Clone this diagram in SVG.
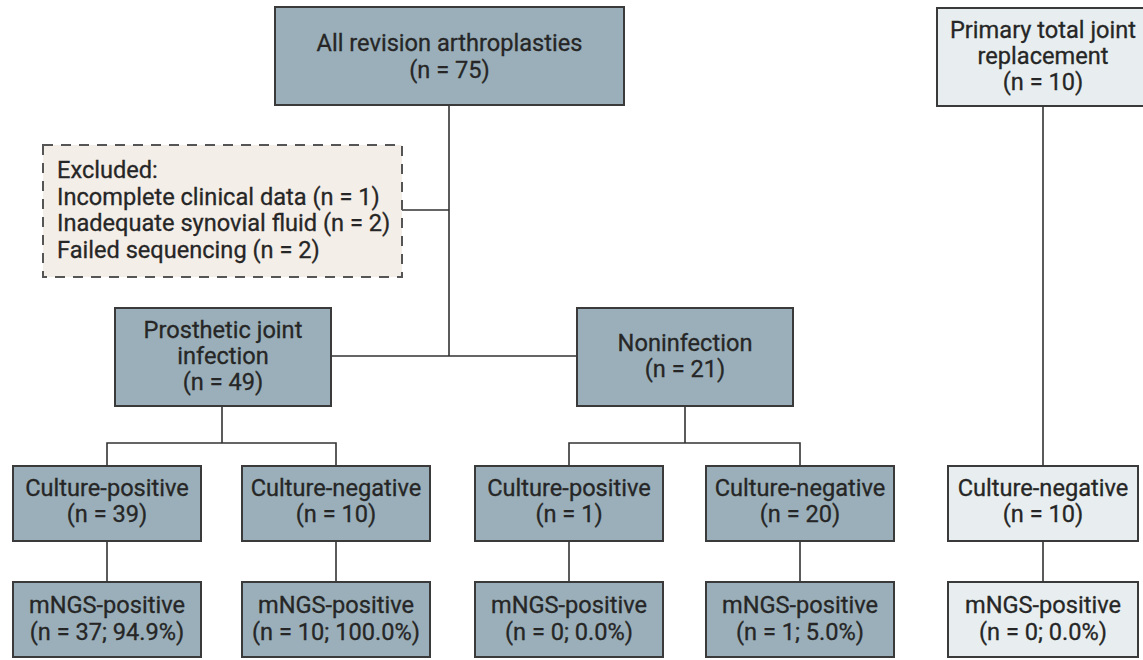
<svg xmlns="http://www.w3.org/2000/svg" width="1143" height="660" viewBox="0 0 1143 660">
<style>
.bx{fill:#9aafb9;stroke:#3a3a3a;stroke-width:2}
.lt{fill:#e8eeef;stroke:#3a3a3a;stroke-width:2}
.ex{fill:#f4eee8;stroke:#555;stroke-width:2;stroke-dasharray:10 8}
text{font-family:Roboto,"Liberation Sans",sans-serif;font-weight:400;font-size:23.6px;fill:#262626;stroke:#262626;stroke-width:0.3}
.c{text-anchor:middle}
.cn{stroke:#333;stroke-width:1.6;fill:none}
</style>
<rect width="1143" height="660" fill="#fff"/>
<g id="connectors">
<path class="cn" d="M449 105V356M402 210H449M331 356H577"/>
<path class="cn" d="M222 406V443M107 466V443H336V466"/>
<path class="cn" d="M685 406V443M569 466V443H800V466"/>
<path class="cn" d="M107 541V582M336 541V582M569 541V582M800 541V582"/>
<path class="cn" d="M1043 106V466M1043 541V582"/>
</g>
<g id="all">
<rect class="bx" x="275" y="7" width="349" height="98"/>
<text class="c" x="449.5" y="51">All revision arthroplasties</text>
<text class="c" x="449.5" y="78">(n = 75)</text>
</g>
<g id="excluded">
<rect class="ex" x="43" y="145" width="359" height="132"/>
<text x="57" y="178">Excluded:</text>
<text x="57" y="205">Incomplete clinical data (n = 1)</text>
<text x="57" y="231">Inadequate synovial fluid (n = 2)</text>
<text x="57" y="258">Failed sequencing (n = 2)</text>
</g>
<g id="primary">
<rect class="lt" x="937" y="8" width="212" height="98"/>
<text class="c" x="1043" y="38">Primary total joint</text>
<text class="c" x="1043" y="64">replacement</text>
<text class="c" x="1043" y="90">(n = 10)</text>
</g>
<g id="pji">
<rect class="bx" x="115" y="308" width="216" height="98"/>
<text class="c" x="223" y="338">Prosthetic joint</text>
<text class="c" x="223" y="364">infection</text>
<text class="c" x="223" y="390">(n = 49)</text>
</g>
<g id="noninfection">
<rect class="bx" x="577" y="308" width="216" height="98"/>
<text class="c" x="685" y="351">Noninfection</text>
<text class="c" x="685" y="377">(n = 21)</text>
</g>
<g id="pji-cpos">
<rect class="bx" x="13" y="466" width="188" height="75"/>
<text class="c" x="107" y="496">Culture-positive</text>
<text class="c" x="107" y="522">(n = 39)</text>
</g>
<g id="pji-cneg">
<rect class="bx" x="242" y="466" width="188" height="75"/>
<text class="c" x="336" y="496">Culture-negative</text>
<text class="c" x="336" y="522">(n = 10)</text>
</g>
<g id="non-cpos">
<rect class="bx" x="475" y="466" width="188" height="75"/>
<text class="c" x="569" y="496">Culture-positive</text>
<text class="c" x="569" y="522">(n = 1)</text>
</g>
<g id="non-cneg">
<rect class="bx" x="706" y="466" width="188" height="75"/>
<text class="c" x="800" y="496">Culture-negative</text>
<text class="c" x="800" y="522">(n = 20)</text>
</g>
<g id="prim-cneg">
<rect class="lt" x="948" y="466" width="190" height="75"/>
<text class="c" x="1043" y="496">Culture-negative</text>
<text class="c" x="1043" y="522">(n = 10)</text>
</g>
<g id="m1">
<rect class="bx" x="13" y="582" width="188" height="75"/>
<text class="c" x="107" y="613">mNGS-positive</text>
<text class="c" x="107" y="640">(n = 37; 94.9%)</text>
</g>
<g id="m2">
<rect class="bx" x="242" y="582" width="188" height="75"/>
<text class="c" x="336" y="613">mNGS-positive</text>
<text class="c" x="336" y="640">(n = 10; 100.0%)</text>
</g>
<g id="m3">
<rect class="bx" x="475" y="582" width="188" height="75"/>
<text class="c" x="569" y="613">mNGS-positive</text>
<text class="c" x="569" y="640">(n = 0; 0.0%)</text>
</g>
<g id="m4">
<rect class="bx" x="706" y="582" width="188" height="75"/>
<text class="c" x="800" y="613">mNGS-positive</text>
<text class="c" x="800" y="640">(n = 1; 5.0%)</text>
</g>
<g id="m5">
<rect class="lt" x="948" y="582" width="190" height="75"/>
<text class="c" x="1043" y="613">mNGS-positive</text>
<text class="c" x="1043" y="640">(n = 0; 0.0%)</text>
</g>
</svg>
